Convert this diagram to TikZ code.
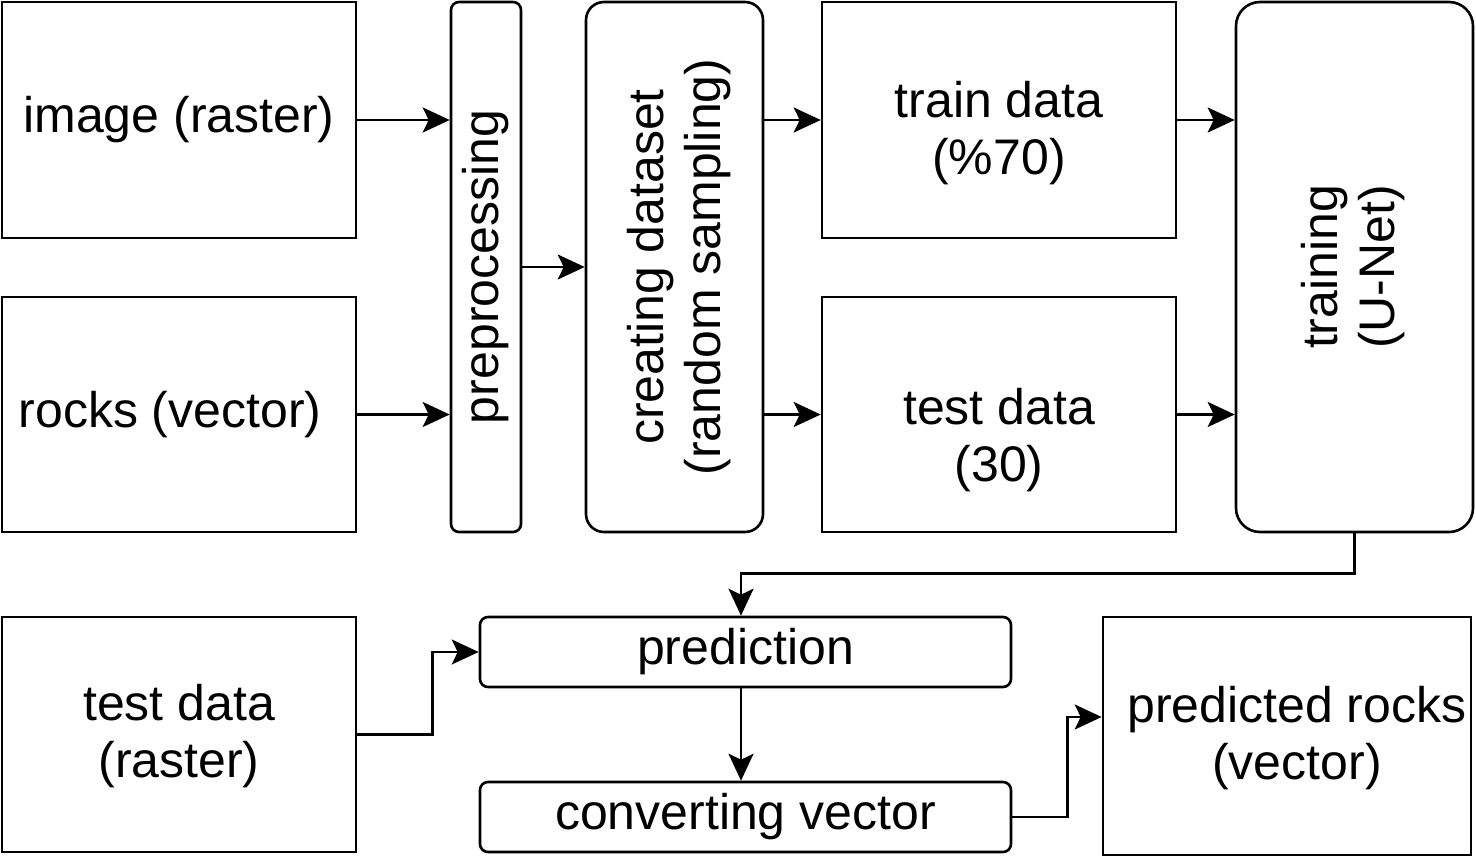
\documentclass[tikz,border=0pt]{standalone}
\usepackage{fontspec}
\setmainfont{Liberation Sans}
\usetikzlibrary{arrows.meta,calc}
\tikzset{
  txt/.style={inner sep=0pt, align=center, font=\fontsize{50}{57}\selectfont},
  box/.style={draw, line width=2.6pt, rectangle, txt},
  sq/.style={box},
  rnd/.style={box, rounded corners=#1},
  conn/.style={draw, line width=2.6pt, -{Stealth[length=27pt, width=25pt, inset=6pt]}},
}
\newcommand{\twol}[2]{\begin{tabular}{@{}c@{}}#1\\#2\end{tabular}}
\begin{document}
\begin{tikzpicture}[x=1pt,y=-1pt]
\useasboundingbox (0,0) rectangle (1476,857);
\node[sq, minimum width=354pt, minimum height=236pt] (img) at (179,120) {image (raster)};
\node[sq, minimum width=354pt, minimum height=235pt] (rocks) at (179,414.5) {\hspace*{-18pt}rocks (vector)};
\node[rnd=8pt, minimum width=70pt, minimum height=530pt] (pre) at (486,267) {\rotatebox{90}{preprocessing}};
\node[rnd=18pt, minimum width=177pt, minimum height=530pt] (cds) at (674.5,267) {};
\node[txt] (cdsT) at ($(cds)+(6,0)$) {\rotatebox{90}{\twol{creating dataset}{(random sampling)}}};
\node[sq, minimum width=354pt, minimum height=236pt] (train) at (999,120) {};
\node[txt] (trainT) at ($(train)+(0,15)$) {\twol{train data}{(\%70)}};
\node[sq, minimum width=354pt, minimum height=235pt] (test) at (999,414.5) {};
\node[txt] (testT) at ($(test)+(0,27)$) {\twol{test data}{(30)}};
\node[rnd=24pt, minimum width=237pt, minimum height=530pt] (trn) at (1354.5,267) {\rotatebox{90}{\twol{training}{(U-Net)}}};
\node[sq, minimum width=354pt, minimum height=235pt] (testr) at (179,734.5) {};
\node[txt] (testrT) at ($(testr)+(0,3)$) {\twol{test data}{(raster)}};
\node[rnd=8pt, minimum width=531pt, minimum height=70pt] (pred) at (745.5,652) {prediction};
\node[rnd=8pt, minimum width=531pt, minimum height=70pt] (conv) at (745.5,817) {converting vector};
\node[sq, minimum width=368pt, minimum height=238pt] (prr) at (1287,736) {};
\node[txt] (prrT) at ($(prr)+(10,4)$) {\twol{predicted rocks}{(vector)}};

\draw[conn] (img.east) -- (img.east -| pre.west);
\draw[conn] (rocks.east) -- (rocks.east -| pre.west);
\draw[conn] (pre.east) -- (cds.west);
\draw[conn] (train.west -| cds.east) -- (train.west);
\draw[conn] (test.west -| cds.east) -- (test.west);
\draw[conn] (train.east) -- (train.east -| trn.west);
\draw[conn] (test.east) -- (test.east -| trn.west);
\coordinate (tp) at ($(pred.north)+(-4.5,0)$);
\draw[conn] (trn.south) -- ++(0,40) -| (tp);
\draw[conn] (testr.east) -- ++(75,0) |- (pred.west);
\draw[conn] (pred.south -| tp) -- (conv.north -| tp);
\coordinate (pin) at ($(prr.west)+(0,-19)$);
\draw[conn] (conv.east) -- ++(55,0) |- (pin);
\end{tikzpicture}
\end{document}
